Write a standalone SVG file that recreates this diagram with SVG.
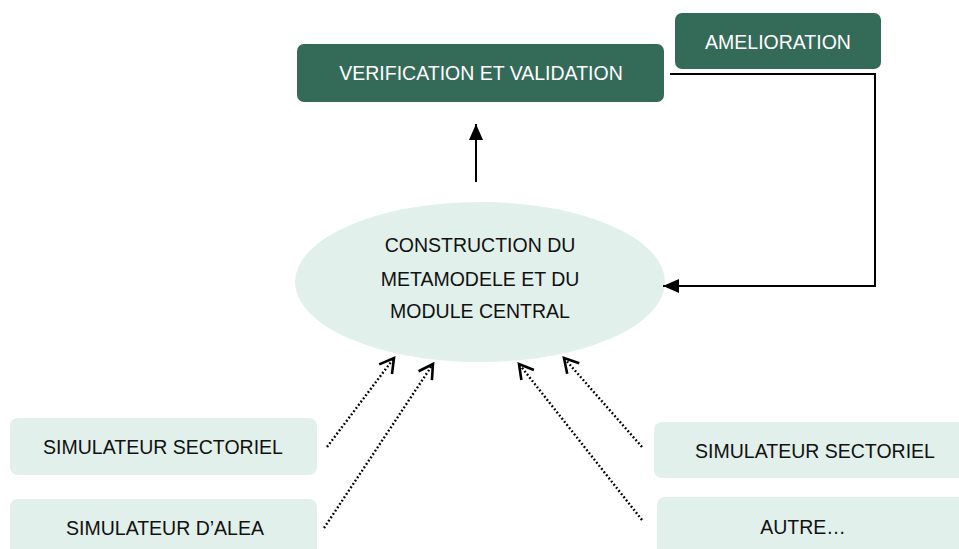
<svg xmlns="http://www.w3.org/2000/svg" width="959" height="549" viewBox="0 0 959 549">
<style>
.dark{fill:#346a58}
.light{fill:#e2f0eb}
text{font-family:"Liberation Sans",Arial,sans-serif;font-size:19.5px;text-anchor:middle}
.wt{fill:#ffffff}
.bt{fill:#111111}
.solid{stroke:#000;stroke-width:2;fill:none}
.dot{stroke:#000;stroke-width:2.4;fill:none;stroke-dasharray:1.8 2.2}
</style>
<defs>
<marker id="tri2" viewBox="0 0 16 14" refX="16" refY="7" markerWidth="16" markerHeight="14" markerUnits="userSpaceOnUse" orient="auto">
<path d="M0,0 L16,7 L0,14 Z" fill="#000"/>
</marker>
<marker id="vee" viewBox="0 0 20 20" refX="17" refY="10" markerWidth="20" markerHeight="20" markerUnits="userSpaceOnUse" orient="auto">
<path d="M3,2 L17,10 L3,18" fill="none" stroke="#000" stroke-width="2.6" stroke-linejoin="miter"/>
</marker>
</defs>
<g id="verification">
<rect class="dark" x="297" y="44" width="367" height="58" rx="7"/>
<text class="wt" x="481" y="80">VERIFICATION ET VALIDATION</text>
</g>
<g id="amelioration">
<rect class="dark" x="675" y="13" width="206" height="56" rx="7"/>
<text class="wt" x="778" y="49">AMELIORATION</text>
</g>
<g id="construction">
<ellipse class="light" cx="480" cy="282" rx="185" ry="80"/>
<text class="bt" x="480" y="252">CONSTRUCTION DU</text>
<text class="bt" x="480" y="286">METAMODELE ET DU</text>
<text class="bt" x="480" y="318">MODULE CENTRAL</text>
</g>
<g id="sim-sect-left">
<rect class="light" x="10" y="418" width="307" height="57" rx="8"/>
<text class="bt" x="163" y="454">SIMULATEUR SECTORIEL</text>
</g>
<g id="sim-alea">
<rect class="light" x="10" y="499" width="307" height="60" rx="8"/>
<text class="bt" x="165" y="535">SIMULATEUR D’ALEA</text>
</g>
<g id="sim-sect-right">
<rect class="light" x="654" y="422" width="320" height="56" rx="8"/>
<text class="bt" x="815" y="458">SIMULATEUR SECTORIEL</text>
</g>
<g id="autre">
<rect class="light" x="657" y="497" width="320" height="60" rx="8"/>
<text class="bt" x="803" y="534">AUTRE…</text>
</g>
<g id="connectors">
<line class="solid" x1="476" y1="182" x2="476" y2="124" marker-end="url(#tri2)"/>
<polyline class="solid" points="670,74 875,74 875,286 663,286" marker-end="url(#tri2)"/>
<line class="dot" x1="327" y1="447" x2="394" y2="358" marker-end="url(#vee)"/>
<line class="dot" x1="324" y1="528" x2="433" y2="364" marker-end="url(#vee)"/>
<line class="dot" x1="642" y1="520" x2="519" y2="364" marker-end="url(#vee)"/>
<line class="dot" x1="642" y1="447" x2="564" y2="358" marker-end="url(#vee)"/>
</g>
</svg>
